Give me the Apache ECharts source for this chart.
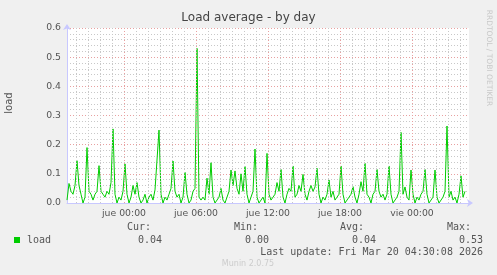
<!DOCTYPE html>
<html><head><meta charset="utf-8">
<script src="https://cdn.jsdelivr.net/npm/echarts@6/dist/echarts.min.js"></script>
<style>html,body{margin:0;padding:0;background:#F0F0F0}#c{width:497px;height:275px}</style>
</head><body><div id="c"></div>
<script>
// hours relative to Thu 00:00, one sample every 10 minutes
var startHour = -4.75;
var stepHour = 1/6;
var loadValues = [
0.01,0.067,0.04,0.03,0.06,0.145,0.06,0.03,0.0,0.02,0.19,0.04,0.03,0.01,0.03,0.04,0.128,0.04,0.03,0.02,
0.04,0.03,0.07,0.254,0.03,0.0,0.02,0.01,0.04,0.134,0.03,0.0,0.02,0.06,0.03,0.07,0.02,0.0,0.01,0.03,
0.0,0.02,0.03,0.01,0.045,0.05,0.25,0.03,0.0,0.02,0.01,0.03,0.05,0.144,0.04,0.02,0.03,0.0,0.02,0.105,
0.03,0.0,0.01,0.04,0.05,0.53,0.02,0.01,0.02,0.01,0.085,0.03,0.138,0.02,0.0,0.01,0.02,0.05,0.01,0.0,
0.02,0.04,0.113,0.06,0.11,0.05,0.03,0.1,0.04,0.125,0.03,0.0,0.02,0.04,0.185,0.02,0.0,0.01,0.02,0.0,
0.17,0.03,0.01,0.02,0.03,0.07,0.04,0.115,0.02,0.0,0.03,0.05,0.04,0.127,0.02,0.03,0.06,0.04,0.098,0.03,
0.01,0.04,0.06,0.04,0.055,0.119,0.03,0.0,0.02,0.01,0.03,0.079,0.02,0.04,0.01,0.02,0.03,0.127,0.03,0.0,
0.01,0.02,0.03,0.056,0.02,0.0,0.03,0.073,0.04,0.136,0.03,0.02,0.0,0.03,0.04,0.115,0.04,0.02,0.03,0.01,
0.03,0.127,0.03,0.0,0.01,0.02,0.04,0.242,0.03,0.055,0.02,0.01,0.113,0.03,0.0,0.02,0.01,0.03,0.04,0.115,
0.03,0.0,0.01,0.02,0.113,0.02,0.0,0.01,0.02,0.04,0.264,0.02,0.04,0.01,0.02,0.0,0.03,0.093,0.02,0.04
];
var xTickHours = [0, 6, 12, 18, 24];
var xTickLabels = ['jue 00:00', 'jue 06:00', 'jue 12:00', 'jue 18:00', 'vie 00:00'];
var gridHours = [-4,-3,-2,-1,0,1,2,3,4,5,6,7,8,9,10,11,12,13,14,15,16,17,18,19,20,21,22,23,24,25,26,27,28];
var legendHeads = ['Cur:', 'Min:', 'Avg:', 'Max:'];
var legendVals = ['0.04', '0.00', '0.04', '0.53'];

var seriesData = loadValues.map(function (v, i) { return [startHour + i * stepHour, v]; });
var vLines = gridHours.map(function (h) {
  var major = (h % 6 === 0);
  return { xAxis: h, lineStyle: { color: major ? '#E8A0A0' : '#C8C8C8', type: [1, 2], width: 1 } };
});

var chart = echarts.init(document.getElementById('c'), null, { renderer: 'canvas' });
var font = 'DejaVu Sans';
var graphics = [
  { type: 'text', left: 'center', top: 12, style: { text: 'Load average - by day', font: '12px "DejaVu Sans"', fill: '#444' } },
  { type: 'text', x: 9, y: 103, rotation: Math.PI / 2, style: { text: 'load', font: '10px "DejaVu Sans"', fill: '#555', align: 'center', verticalAlign: 'middle' } },
  { type: 'text', x: 489, y: 58, rotation: -Math.PI / 2, style: { text: 'RRDTOOL / TOBI OETIKER', font: '7.5px "DejaVu Sans"', fill: '#C8C8C8', align: 'center', verticalAlign: 'middle' } },
  { type: 'rect', shape: { x: 14, y: 237, width: 6, height: 6 }, style: { fill: '#00CC00' } },
  { type: 'text', x: 27, y: 240, style: { text: 'load', font: '10px "DejaVu Sans Mono"', fill: '#555', verticalAlign: 'middle' } },
  { type: 'text', x: 483, y: 252, style: { text: 'Last update: Fri Mar 20 04:30:08 2026', font: '10px "DejaVu Sans Mono"', fill: '#555', align: 'right', verticalAlign: 'middle' } },
  { type: 'text', x: 248, y: 264, style: { text: 'Munin 2.0.75', font: '8px "DejaVu Sans"', fill: '#CCCCCC', align: 'center', verticalAlign: 'middle' } }
];
var headX = [127, 234, 340, 447];
var valRight = [162, 269, 376, 483];
legendHeads.forEach(function (t, i) {
  graphics.push({ type: 'text', x: headX[i], y: 227, style: { text: t, font: '10px "DejaVu Sans Mono"', fill: '#555', verticalAlign: 'middle' } });
  graphics.push({ type: 'text', x: valRight[i], y: 240, style: { text: legendVals[i], font: '10px "DejaVu Sans Mono"', fill: '#555', align: 'right', verticalAlign: 'middle' } });
});

chart.setOption({
  backgroundColor: '#F0F0F0',
  animation: false,
  grid: { left: 67, right: 28, top: 28, bottom: 72, show: true, backgroundColor: '#FFFFFF', borderWidth: 0 },
  xAxis: {
    type: 'value', min: -4.75, max: 28.75,
    axisLine: { show: true, onZero: false, lineStyle: { color: '#C8C8FF', width: 1 }, symbol: ['none', 'arrow'], symbolSize: [6, 6], symbolOffset: [0, 4] },
    axisTick: { show: false },
    splitLine: { show: false },
    axisLabel: {
      customValues: xTickHours, color: '#555', fontFamily: font, fontSize: 9.3, margin: 6,
      formatter: function (v) { var k = xTickHours.indexOf(v); return k >= 0 ? xTickLabels[k] : ''; }
    }
  },
  yAxis: {
    type: 'value', min: 0, max: 0.6, interval: 0.1,
    axisLine: { show: true, onZero: false, lineStyle: { color: '#C8C8FF', width: 1 }, symbol: ['none', 'arrow'], symbolSize: [6, 6], symbolOffset: [0, 4] },
    axisTick: { show: false },
    axisLabel: { color: '#555', fontFamily: font, fontSize: 9.3, margin: 6, formatter: function (v) { return v.toFixed(1); } },
    splitLine: { show: true, lineStyle: { color: '#E8A0A0', type: [1, 2], width: 1 } },
    minorTick: { show: false, splitNumber: 5 },
    minorSplitLine: { show: true, lineStyle: { color: '#C8C8C8', type: [1, 2], width: 1 } }
  },
  graphic: graphics,
  series: [
    { type: 'line', data: [], z: 1, silent: true, markLine: { silent: true, symbol: 'none', label: { show: false }, data: vLines, animation: false } },
    { type: 'line', data: seriesData, z: 3, showSymbol: false, symbol: 'none', lineStyle: { color: '#00CC00', width: 1 }, itemStyle: { color: '#00CC00' } }
  ]
});
</script></body></html>
